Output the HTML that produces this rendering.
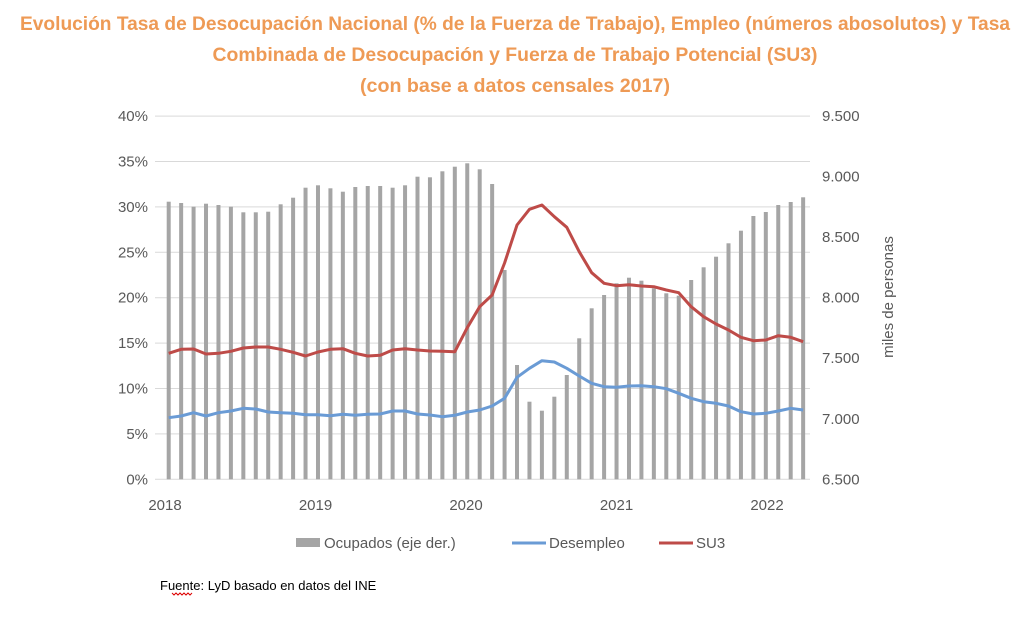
<!DOCTYPE html>
<html><head><meta charset="utf-8"><style>
html,body{margin:0;padding:0;background:#fff;width:1024px;height:626px;overflow:hidden}
svg text{font-family:"Liberation Sans Narrow","Liberation Sans",sans-serif}
</style></head><body>
<svg id="s" width="1024" height="626" xmlns="http://www.w3.org/2000/svg">
<g font-weight="bold" fill="#EE9A55" font-size="19" text-anchor="middle">
<text x="515" y="30" textLength="990" lengthAdjust="spacingAndGlyphs">Evolución Tasa de Desocupación Nacional (% de la Fuerza de Trabajo), Empleo (números abosolutos) y Tasa</text>
<text x="515" y="61" textLength="605" lengthAdjust="spacingAndGlyphs">Combinada de Desocupación y Fuerza de Trabajo Potencial (SU3)</text>
<text x="515" y="92" textLength="310" lengthAdjust="spacingAndGlyphs">(con base a datos censales 2017)</text>
</g>
<g id="grid" stroke="#d9d9d9" stroke-width="1"></g>
<g id="bars" fill="#a5a5a5"></g>
<polyline id="red" fill="none" stroke="#BE4B48" stroke-width="3" stroke-linejoin="round"/>
<polyline id="blue" fill="none" stroke="#6A9BD5" stroke-width="3" stroke-linejoin="round"/>
<g id="lab" fill="#595959" font-size="15"></g>
<text transform="translate(893,297) rotate(-90)" text-anchor="middle" fill="#595959" font-size="15">miles de personas</text>
<g font-size="15" fill="#595959">
<rect x="296" y="538" width="24" height="9" fill="#a5a5a5"/>
<text x="324" y="548">Ocupados (eje der.)</text>
<line x1="512" y1="543" x2="546" y2="543" stroke="#6A9BD5" stroke-width="3"/>
<text x="549" y="548">Desempleo</text>
<line x1="659" y1="543" x2="693" y2="543" stroke="#BE4B48" stroke-width="3"/>
<text x="696" y="548">SU3</text>
</g>
<text x="160" y="590" font-size="13" fill="#000">Fuente: LyD basado en datos del INE</text>
<path d="M172 593 l2 2 l2 -2 l2 2 l2 -2 l2 2 l2 -2 l2 2 l2 -2 l2 2 l2 -2" fill="none" stroke="#d00" stroke-width="1"/>
</svg>
<script>
var NS="http://www.w3.org/2000/svg";
function el(t,a,p,txt){var e=document.createElementNS(NS,t);for(var k in a)e.setAttribute(k,a[k]);if(txt)e.textContent=txt;document.getElementById(p).appendChild(e);}
for(var i=0;i<=8;i++){var y=479.3-i*45.4;el("line",{x1:155,x2:810,y1:y,y2:y},"grid");
el("text",{x:148,y:y+5,"text-anchor":"end"},"lab",(i*5)+"%");}
var rl=["6.500","7.000","7.500","8.000","8.500","9.000","9.500"];
for(var i=0;i<7;i++){var y=479.3-i*60.53;el("text",{x:822,y:y+5},"lab",rl[i]);}
var tops=[201.7,203,206.7,203.7,205,206.7,212.3,212.3,211.7,204.3,197.7,187.7,185.3,188.3,191.7,187,186,186,187.7,185.3,176.7,177.3,171.3,166.7,163.3,169.3,184,270,365,401.7,410.7,396.7,375,338.3,308.3,295,283.3,277.7,280.7,288.3,293.3,295.7,280,267.3,256.7,243.3,230.7,216,212,205,202,197.3];
var red=[353.3,349.3,349,354,353.3,351.3,348,347,347,349.3,352.3,356,352,349.3,348.7,353.3,356,355.3,350,348.7,350,351,351.3,351.7,327.7,306.7,295,263,225,209.3,205,216.7,227.3,251.7,272.7,283.3,285.7,284.7,286,286.7,290,292.7,306.7,316.7,324,330,337.3,340.7,340,335.7,337.3,341.7];
var blue=[417.7,416,412.7,416,412.7,411,408.3,409,412,412.7,413.3,414.7,414.7,415.7,414.3,415.3,414.3,414,411,411,414,415,416.7,415.3,412,410,406,398.3,377.3,368.3,360.7,362,368.3,376,383.3,386.7,387.3,386,385.7,386.7,388.7,393.3,398.3,401.7,403.3,406,411.7,414,413.3,411,408.3,410];
var pr="",pb="";
for(var i=0;i<52;i++){var x=168.7+12.44*i;el("rect",{x:x-2,y:tops[i],width:4,height:479.3-tops[i]},"bars");pr+=x+","+red[i]+" ";pb+=x+","+blue[i]+" ";}
document.getElementById("red").setAttribute("points",pr);document.getElementById("blue").setAttribute("points",pb);
var yrs=[2018,2019,2020,2021,2022];for(var j=0;j<5;j++)el("text",{x:165+150.5*j,y:510,"text-anchor":"middle"},"lab",""+yrs[j]);
</script>
</body></html>
